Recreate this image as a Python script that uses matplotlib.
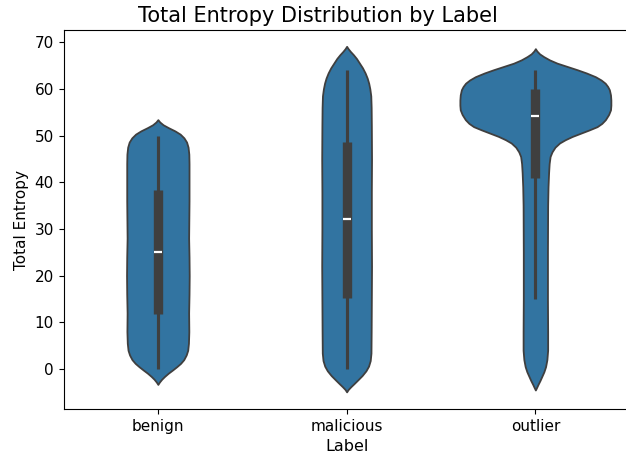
import numpy as np
import matplotlib
matplotlib.use("Agg")
import matplotlib.pyplot as plt

labels = ["benign", "malicious", "outlier"]

# violin outlines: (value, half-width in category units)
benign_y = [-3.3, -2.8, -2.2, -1.6, -0.9, -0.2, 0.5, 1.2, 2.0, 3.0, 4.0, 5.5, 8, 12, 16, 20, 24, 28,
            32, 36, 40, 44, 46, 47.5, 48.6, 49.5, 50.3, 51.0, 51.7, 52.3, 52.9, 53.4]
benign_w = [0, 0.008, 0.02, 0.035, 0.055, 0.078, 0.1, 0.12, 0.137, 0.15, 0.158, 0.162, 0.164, 0.163,
            0.165, 0.166, 0.165, 0.163, 0.164, 0.165, 0.165, 0.165, 0.164, 0.16, 0.152, 0.138, 0.118,
            0.09, 0.055, 0.028, 0.01, 0]

malicious_y = [-4.9, -4.4, -3.8, -3.1, -2.3, -1.4, -0.4, 0.6, 1.8, 3.4, 8, 15, 22, 30, 38, 45, 52, 56,
               58.5, 60.0, 61.2, 62.3, 63.4, 64.5, 65.5, 66.5, 67.3, 68.0, 68.6, 69.1]
malicious_w = [0, 0.008, 0.022, 0.04, 0.06, 0.082, 0.102, 0.116, 0.125, 0.129, 0.13, 0.131, 0.132,
               0.131, 0.131, 0.132, 0.131, 0.13, 0.128, 0.123, 0.117, 0.109, 0.098, 0.084, 0.068,
               0.052, 0.036, 0.02, 0.008, 0]

outlier_y = [-4.5, -4.0, -3.3, -2.5, -1.6, -0.6, 0.5, 2.0, 4, 8, 15, 25, 35, 39, 42, 44, 45.5, 46.5,
             47.5, 48.4, 49.1, 49.8, 50.5, 51.2, 51.9, 52.6, 53.4, 54.5, 55.5, 56.5, 57.6, 58.7, 59.8,
             60.5, 61.2, 61.9, 62.6, 63.4, 64.1, 64.8, 65.5, 66.2, 66.9, 67.5, 68.1, 68.6]
outlier_w = [0, 0.006, 0.014, 0.024, 0.034, 0.045, 0.054, 0.061, 0.065, 0.065, 0.064, 0.064, 0.065,
             0.067, 0.07, 0.073, 0.078, 0.088, 0.104, 0.128, 0.158, 0.195, 0.24, 0.285, 0.327, 0.352,
             0.371, 0.388, 0.398, 0.40, 0.40, 0.398, 0.392, 0.383, 0.37, 0.348, 0.318, 0.27, 0.221,
             0.168, 0.115, 0.075, 0.044, 0.022, 0.008, 0]

# inner box statistics
whisker_low = [0, 0, 15]
q1 = [11.8, 15.1, 40.9]
median = [25.1, 32.1, 54.1]
q3 = [38.4, 48.6, 59.9]
whisker_high = [50, 64, 64]

profiles_y = [benign_y, malicious_y, outlier_y]
profiles_w = [benign_w, malicious_w, outlier_w]

fill_color = "#3274a1"
line_color = "#3f3f3f"

W, H = 626, 453
fig = plt.figure(figsize=(W / 100, H / 100), dpi=100)
left, right, bottom, top = 63.5, 629.75, 409, 30
ax = fig.add_axes([left / W, (H - bottom) / H, (right - left) / W, (bottom - top) / H])

for i, (ys, ws) in enumerate(zip(profiles_y, profiles_w)):
    ys = np.asarray(ys)
    ws = np.asarray(ws)
    ax.fill_betweenx(ys, i - ws, i + ws, facecolor=fill_color, edgecolor=line_color,
                     linewidth=1.3, zorder=2)
    ax.plot([i, i], [whisker_low[i], whisker_high[i]], color=line_color, lw=2.25,
            solid_capstyle="butt", zorder=3)
    ax.plot([i, i], [q1[i], q3[i]], color=line_color, lw=6.75, solid_capstyle="butt", zorder=4)
    ax.plot([i], [median[i]], marker="_", color="white", markersize=5.5, mew=1.6, zorder=5)

ax.set_xlim(-0.5, 2.5)
ax.set_ylim(-8.57, 72.6)
ax.set_xticks(range(len(labels)))
ax.set_xticklabels(labels)
ax.set_yticks([0, 10, 20, 30, 40, 50, 60, 70])
ax.tick_params(labelsize=11)
ax.set_xlabel("Label", fontsize=11.5)
ax.set_ylabel("Total Entropy", fontsize=11)
ax.set_title("Total Entropy Distribution by Label", x=0.45, fontsize=15)

fig.savefig("out.png", dpi=100)
